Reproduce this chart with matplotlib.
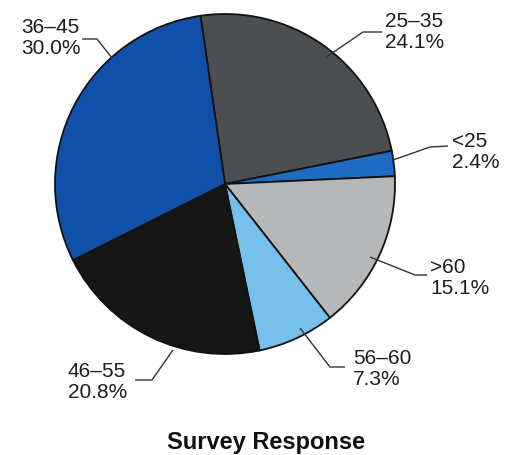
import matplotlib.pyplot as plt

# data, clockwise from the top
groups = ["25\u201335", "<25", ">60", "56\u201360", "46\u201355", "36\u201345"]
shares = [24.1, 2.4, 15.1, 7.3, 20.8, 30.0]
colors = ["#4b4f52", "#1f6cc4", "#b6b7b9", "#78c0ec", "#161616", "#1150a8"]

W, H = 521, 455

# label layout in pixel coords (y down): text anchor, leader points
label_layout = {
    "25\u201335": dict(text=(385, 32), ha="left", line=[(382, 32), (363, 32), (325, 58)]),
    "<25": dict(text=(452, 152), ha="left", line=[(448, 146), (430, 147), (393, 160)]),
    ">60": dict(text=(430, 278), ha="left", line=[(427, 275), (415, 275), (370, 257)]),
    "56\u201360": dict(text=(353, 369), ha="left", line=[(345, 367), (330, 367), (300, 328)]),
    "46\u201355": dict(text=(68, 382), ha="left", line=[(135, 380), (152, 380), (173, 350)]),
    "36\u201345": dict(text=(21, 38), ha="left", line=[(82, 39), (97, 39), (112, 58)]),
}

plt.rcParams['font.family'] = ['Liberation Sans', 'DejaVu Sans']

fig = plt.figure(figsize=(W / 100, H / 100), dpi=100)
ax = fig.add_axes([0, 0, 1, 1])
ax.set_xlim(0, W)
ax.set_ylim(0, H)
ax.set_aspect('equal')
ax.axis('off')

ax.pie(shares, colors=colors, center=(225, H - 184), radius=170,
       startangle=98.3, counterclock=False, frame=True,
       wedgeprops=dict(edgecolor="#111111", linewidth=1.3))
ax.set_xlim(0, W)
ax.set_ylim(0, H)
ax.axis('off')

for g, s in zip(groups, shares):
    lay = label_layout[g]
    xs = [p[0] for p in lay["line"]]
    ys = [H - p[1] for p in lay["line"]]
    ax.plot(xs, ys, color="#333333", lw=1.0, solid_capstyle='butt')
    tx, ty = lay["text"]
    ax.text(tx, H - ty, f"{g}\n{s:.1f}%", ha=lay["ha"], va="center",
            fontsize=15, color="#1e1e1e", linespacing=1.15)

ax.text(266, H - 442, "Survey Response", ha="center", va="center",
        fontsize=17, fontweight="bold", color="#111111")

fig.savefig("out.png", dpi=100)
